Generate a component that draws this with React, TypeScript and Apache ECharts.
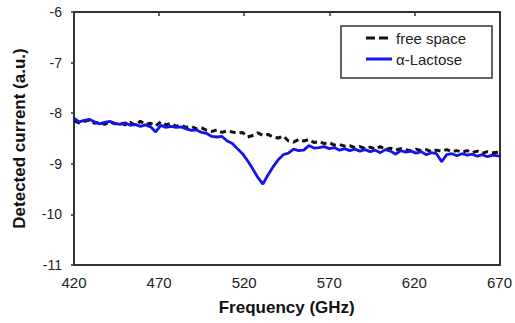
import React, { useEffect, useRef } from "react";
import * as echarts from "echarts";

const freq = [
  420, 423, 426, 429, 432, 435, 438, 441, 444, 447, 450, 453, 456, 459, 462, 465, 468, 471, 474, 477,
  480, 483, 486, 489, 492, 495, 498, 501, 504, 507, 510, 513, 516, 519, 522, 525, 528, 531, 534, 537,
  540, 543, 546, 549, 552, 555, 558, 561, 564, 567, 570, 573, 576, 579, 582, 585, 588, 591, 594, 597,
  600, 603, 606, 609, 612, 615, 618, 621, 624, 627, 630, 633, 636, 639, 642, 645, 648, 651, 654, 657,
  660, 663, 666, 670,
];

const lactose = [
  -8.10, -8.17, -8.14, -8.12, -8.17, -8.21, -8.18, -8.16, -8.20, -8.22,
  -8.19, -8.24, -8.22, -8.26, -8.23, -8.27, -8.37, -8.24, -8.28, -8.26,
  -8.28, -8.27, -8.31, -8.34, -8.33, -8.38, -8.40, -8.46, -8.47, -8.46,
  -8.55, -8.60, -8.70, -8.80, -8.94, -9.10, -9.27, -9.40, -9.22, -9.06,
  -8.92, -8.82, -8.79, -8.71, -8.74, -8.73, -8.64, -8.69, -8.68, -8.66,
  -8.70, -8.68, -8.73, -8.70, -8.74, -8.71, -8.75, -8.72, -8.76, -8.73,
  -8.78, -8.72, -8.75, -8.81, -8.74, -8.77, -8.75, -8.79, -8.76, -8.82,
  -8.78, -8.80, -8.96, -8.82, -8.80, -8.84, -8.80, -8.83, -8.81, -8.85,
  -8.82, -8.86, -8.83, -8.85,
];

const freeSpace = [
  -8.15, -8.19, -8.16, -8.14, -8.20, -8.18, -8.22, -8.17, -8.21, -8.19,
  -8.23, -8.18, -8.24, -8.16, -8.22, -8.20, -8.25, -8.17, -8.23, -8.20,
  -8.26, -8.24, -8.28, -8.26, -8.31, -8.29, -8.34, -8.36, -8.33, -8.38,
  -8.35, -8.37, -8.40, -8.38, -8.47, -8.44, -8.39, -8.44, -8.42, -8.47,
  -8.49, -8.45, -8.55, -8.57, -8.52, -8.55, -8.52, -8.58, -8.56, -8.60,
  -8.58, -8.63, -8.62, -8.65, -8.64, -8.68, -8.66, -8.70, -8.67, -8.71,
  -8.66, -8.72, -8.69, -8.73, -8.70, -8.72, -8.74, -8.71, -8.74, -8.72,
  -8.76, -8.73, -8.75, -8.72, -8.76, -8.74, -8.77, -8.74, -8.78, -8.75,
  -8.79, -8.76, -8.78, -8.77,
];

const seriesNames = ["free space", "\u03b1-Lactose"];
const xTicks = [420, 470, 520, 570, 620, 670];
const yTicks = [-11, -10, -9, -8, -7, -6];

export default function App() {
  const ref = useRef<HTMLDivElement>(null);
  useEffect(() => {
    if (!ref.current) return;
    const chart = echarts.init(ref.current, undefined, { renderer: "svg" });
    const axisColor = "#333";
    const blue = "#1414f0";
    const dark = "#111";
    const font = "Liberation Sans, Arial, sans-serif";
    chart.setOption({
      animation: false,
      backgroundColor: "#fff",
      grid: { left: 74, right: 11, top: 12, bottom: 58 },
      graphic: [
        {
          type: "group",
          z: 10,
          children: [
            {
              type: "rect",
              shape: { x: 341, y: 26, width: 151, height: 52 },
              style: { fill: "#fff", stroke: "#333", lineWidth: 1.5 },
            },
            {
              type: "line",
              shape: { x1: 366, y1: 38, x2: 392, y2: 38 },
              style: { stroke: dark, lineWidth: 3, lineDash: [9, 4] },
            },
            {
              type: "text",
              x: 396,
              y: 38,
              style: {
                text: seriesNames[0],
                fontFamily: font,
                fontSize: 15,
                fill: "#222",
                verticalAlign: "middle",
              },
            },
            {
              type: "line",
              shape: { x1: 366, y1: 59, x2: 392, y2: 59 },
              style: { stroke: blue, lineWidth: 3 },
            },
            {
              type: "text",
              x: 396,
              y: 59,
              style: {
                text: seriesNames[1],
                fontFamily: font,
                fontSize: 15,
                fill: "#222",
                verticalAlign: "middle",
              },
            },
          ],
        },
      ],
      xAxis: [
        {
          type: "value",
          min: xTicks[0],
          max: xTicks[xTicks.length - 1],
          interval: 50,
          axisLine: { show: true, lineStyle: { color: axisColor, width: 2 } },
          axisTick: { show: false },
          splitLine: { show: false },
          axisLabel: { fontFamily: font, fontSize: 15, color: "#222", margin: 10 },
          name: "Frequency (GHz)",
          nameLocation: "middle",
          nameGap: 34,
          nameTextStyle: { fontFamily: font, fontSize: 17, fontWeight: "bold", color: "#111" },
        },
        {
          type: "value",
          position: "top",
          min: xTicks[0],
          max: xTicks[xTicks.length - 1],
          interval: 50,
          axisLine: { show: true, lineStyle: { color: axisColor, width: 2 } },
          axisTick: { show: true, inside: true, length: 4, lineStyle: { color: axisColor, width: 1.5 } },
          axisLabel: { show: false },
          splitLine: { show: false },
        },
      ],
      yAxis: [
        {
          type: "value",
          min: yTicks[0],
          max: yTicks[yTicks.length - 1],
          interval: 1,
          axisLine: { show: true, lineStyle: { color: axisColor, width: 2 } },
          axisTick: { show: true, length: 3, lineStyle: { color: axisColor, width: 1.5 } },
          splitLine: { show: false },
          axisLabel: { fontFamily: font, fontSize: 14, color: "#222", margin: 12 },
          name: "Detected current (a.u.)",
          nameLocation: "middle",
          nameGap: 46,
          nameTextStyle: { fontFamily: font, fontSize: 17, fontWeight: "bold", color: "#111" },
        },
        {
          type: "value",
          position: "right",
          min: yTicks[0],
          max: yTicks[yTicks.length - 1],
          interval: 1,
          axisLine: { show: true, lineStyle: { color: axisColor, width: 2 } },
          axisTick: { show: false },
          axisLabel: { show: false },
          splitLine: { show: false },
        },
      ],
      series: [
        {
          name: seriesNames[0],
          type: "line",
          data: freq.map((f, i) => [f, freeSpace[i]]),
          showSymbol: false,
          symbol: "none",
          lineStyle: { color: dark, width: 3, type: [6, 4] },
          itemStyle: { color: dark },
          z: 2,
        },
        {
          name: seriesNames[1],
          type: "line",
          data: freq.map((f, i) => [f, lactose[i]]),
          showSymbol: false,
          symbol: "none",
          lineStyle: { color: blue, width: 2.8 },
          itemStyle: { color: blue },
          z: 3,
        },
      ],
    });
    return () => chart.dispose();
  }, []);
  return (
    <div
      ref={ref}
      style={{ position: "fixed", left: 0, top: 0, width: 515, height: 323 }}
    />
  );
}
